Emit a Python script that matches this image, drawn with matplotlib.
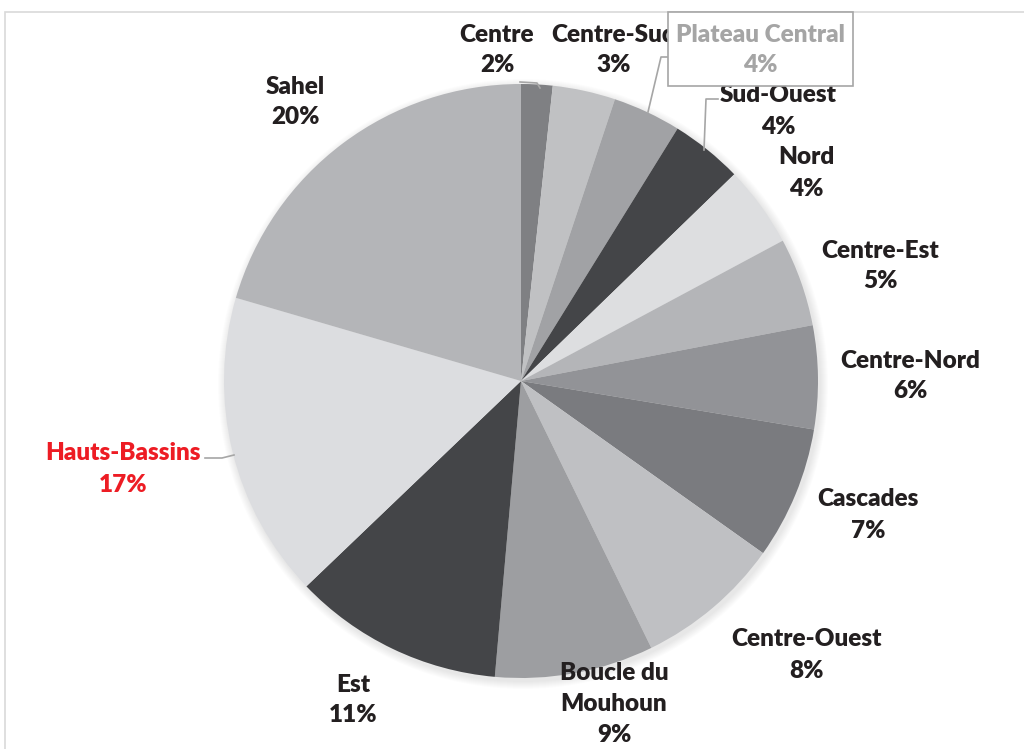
import matplotlib.pyplot as plt
from matplotlib.patches import Rectangle, Circle

regions = ['Centre', 'Centre-Sud', 'Plateau Central', 'Sud-Ouest', 'Nord',
           'Centre-Est', 'Centre-Nord', 'Cascades', 'Centre-Ouest',
           'Boucle du\nMouhoun', 'Est', 'Hauts-Bassins', 'Sahel']
shares = [1.7, 3.4, 3.7, 3.9, 4.4, 4.8, 5.6, 7.2, 7.9, 8.6, 11.4, 16.6, 20.4]

colors = ['#7f8083', '#c0c1c3', '#a1a2a5', '#444548', '#dddee0', '#b4b5b8',
          '#929397', '#7a7b7f', '#bfc0c3', '#9d9ea1', '#444548', '#dcdde0', '#b4b5b8']

# label centres in pixels (x, y from top)
label_pos = [(497, 50), (614, 50), (760, 50), (778, 111), (806, 173),
             (880, 266), (910, 376), (868, 515), (806, 655), (614, 704),
             (353, 700), (123, 469), (295, 102)]

W, H = 1024, 749
fig = plt.figure(figsize=(W / 100, H / 100), dpi=100)
ax = fig.add_axes([0, 0, 1, 1])

# chart frame
ax.add_patch(Rectangle((5, -20), W + 20, H - 12 + 20, fill=False,
                       edgecolor='#d9d9d9', linewidth=1.2, zorder=0))

cx, cy, r = 521, H - 381, 297

# soft shadow
for i in range(8):
    ax.add_patch(Circle((cx + 2, cy - 3), r + 8 - i, color='black',
                        alpha=0.012, linewidth=0, zorder=1))

ax.pie(shares, colors=colors, startangle=90, counterclock=False,
       center=(cx, cy), radius=r, frame=True,
       wedgeprops=dict(linewidth=0, zorder=2))
ax.set_xlim(0, W)
ax.set_ylim(0, H)
ax.set_aspect('equal')
ax.axis('off')

total = sum(shares)
for name, v, (lx, ly) in zip(regions, shares, label_pos):
    txt = '%s\n%d%%' % (name, round(v / total * 100))
    col = '#231f20'
    z = 5
    if name == 'Hauts-Bassins':
        col = '#ed1c24'
    if name == 'Plateau Central':
        col = '#a5a5a5'
        z = 7
    ax.text(lx, H - ly, txt, ha='center', va='center', fontsize=17.5,
            fontweight='heavy', family='Lato', color=col, linespacing=1.5,
            zorder=z)

# Plateau Central box covers the neighbouring label
ax.add_patch(Rectangle((668, H - 86), 185, 74, facecolor='white',
                       edgecolor='#a6a6a6', linewidth=1.2, zorder=6))

# leader lines
leaders = [[(520, 82), (537, 83), (540, 88)],
           [(668, 57), (661, 57), (648, 112)],
           [(718, 99), (706, 99), (704, 150)],
           [(205, 458), (222, 458), (234, 455)]]
for pts in leaders:
    ax.plot([p[0] for p in pts], [H - p[1] for p in pts], color='#a6a6a6',
            linewidth=1.2, zorder=3)

fig.savefig('out.png', dpi=100)
